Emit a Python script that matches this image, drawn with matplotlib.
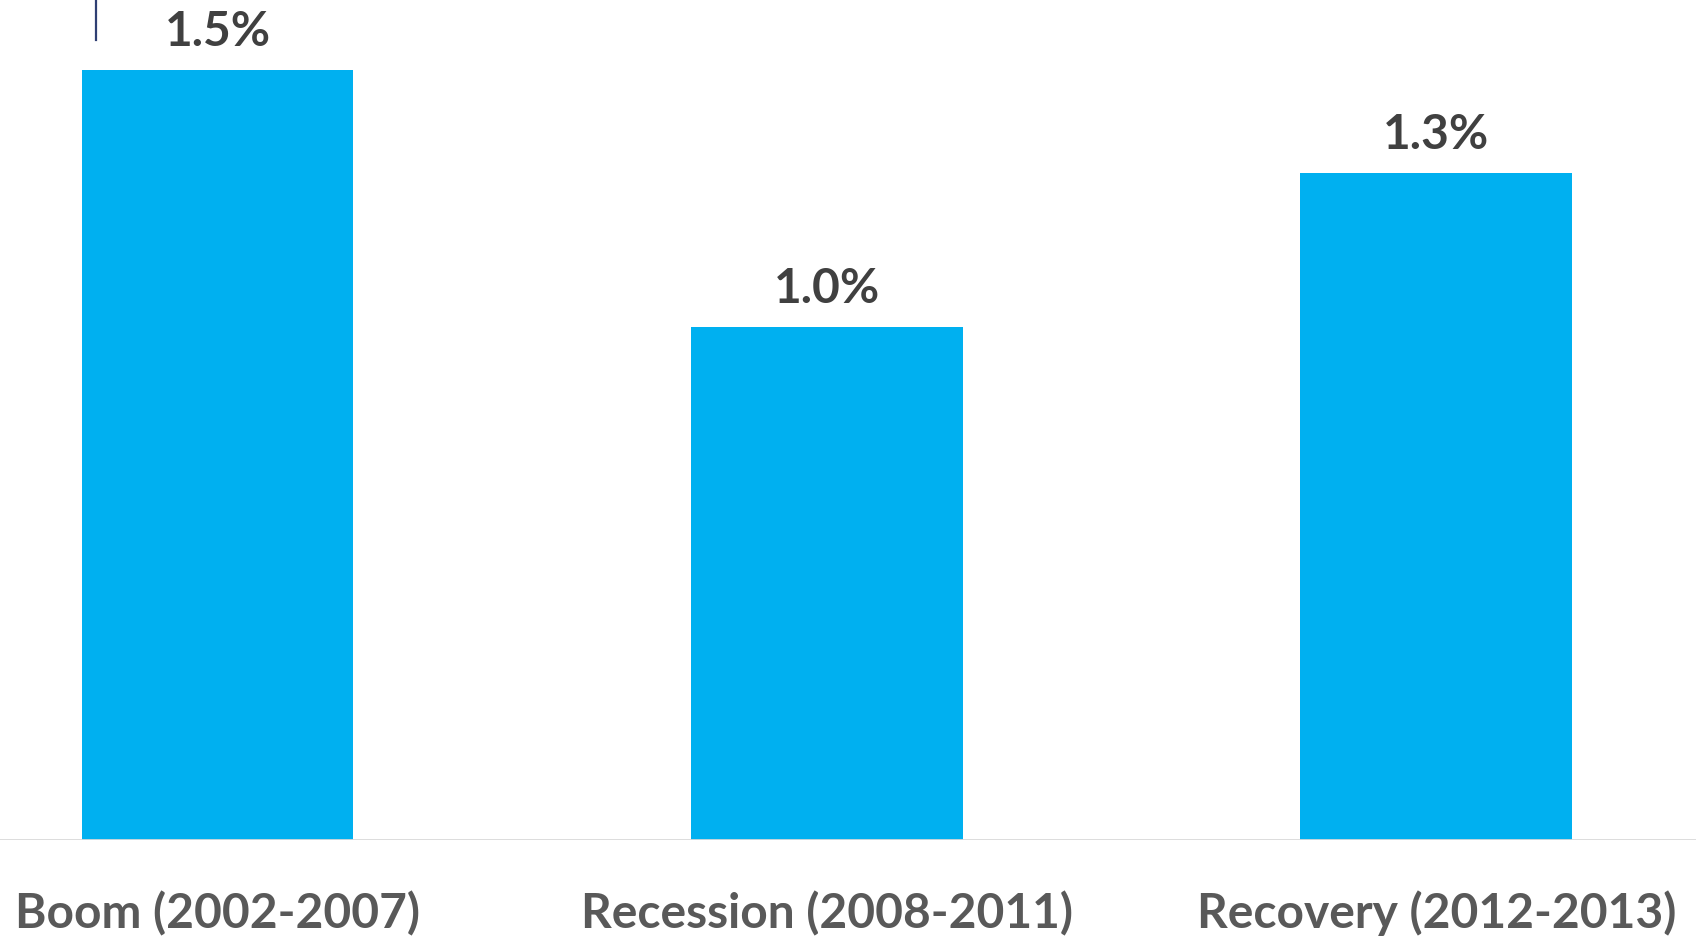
import matplotlib
matplotlib.use("Agg")
import matplotlib.pyplot as plt
import matplotlib.transforms as mtransforms

# Average annual growth by economic period
categories = ["Boom (2002-2007)", "Recession (2008-2011)", "Recovery (2012-2013)"]
values = [1.5, 1.0, 1.3]
value_labels = ["1.5%", "1.0%", "1.3%"]

BAR_COLOR = "#00B0F0"
VALUE_COLOR = "#404040"
CAT_COLOR = "#595959"
FONT = ["Lato", "DejaVu Sans"]

fig = plt.figure(figsize=(16.96, 9.37), dpi=100)
ax = fig.add_axes([0, 96 / 937, 1, 841 / 937])

x = list(range(len(categories)))
ax.bar(x, values, width=0.446, color=BAR_COLOR, zorder=2)

ax.set_xlim(-0.357, 2.426)
ax.set_ylim(0, 1.638)
ax.axis("off")

# Horizontal baseline across the full width
ax.axhline(0, color="#D9D9D9", linewidth=2.0, zorder=3)

# Value labels above each bar
for xi, v, lab in zip(x, values, value_labels):
    ax.annotate(lab, xy=(xi, v), xytext=(0, 25), textcoords="offset pixels",
                ha="center", va="baseline", fontsize=34.5, fontweight="bold",
                color=VALUE_COLOR, family=FONT)

# Category labels beneath the baseline
for xi, cat in zip(x, categories):
    ax.annotate(cat, xy=(xi, 0), xytext=(0, -87), textcoords="offset pixels",
                ha="center", va="baseline", fontsize=34.5, fontweight="bold",
                color=CAT_COLOR, family=FONT)

# Short vertical stroke at the top-left edge
trans = mtransforms.blended_transform_factory(ax.transData, ax.transAxes)
ax.plot([-0.2, -0.2], [1 - 41 / 841, 1.0], transform=trans,
        color="#2F3F73", linewidth=1.6, clip_on=False, zorder=4)

fig.savefig("out.png", dpi=100, facecolor="white")
